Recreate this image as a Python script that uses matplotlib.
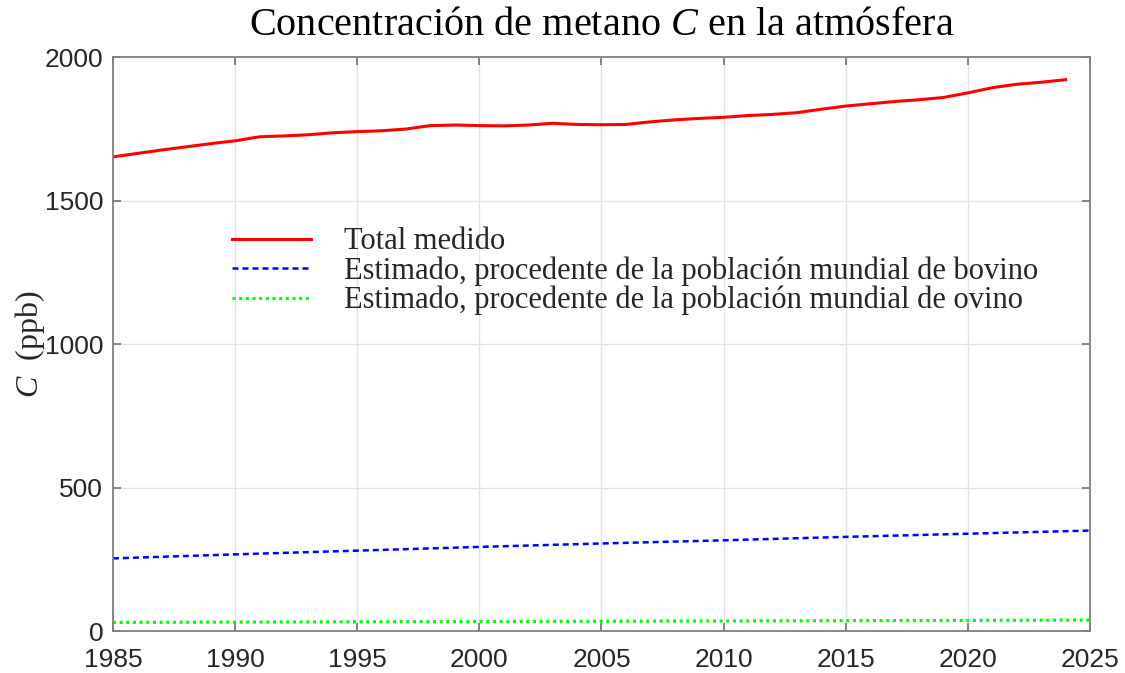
import matplotlib
matplotlib.use('Agg')
import matplotlib.pyplot as plt

# measured total (ppb), annual
years_total = list(range(1985, 2025))
total = [1652, 1664, 1676, 1687, 1698, 1708, 1722, 1725, 1729, 1736,
         1740, 1743, 1749, 1761, 1763, 1761, 1760, 1763, 1769, 1765,
         1764, 1765, 1774, 1781, 1786, 1790, 1796, 1800, 1806, 1818,
         1829, 1837, 1845, 1851, 1859, 1875, 1893, 1905, 1912, 1921]

# estimated contributions (ppb)
years_est = [1985, 1990, 1995, 2000, 2005, 2010, 2015, 2020, 2025]
bovino = [253, 267, 280, 293, 305, 316, 328, 339, 350]
ovino = [30, 31, 32, 33, 34, 35, 36, 37, 38]

labels = ['Total medido',
          'Estimado, procedente de la población mundial de bovino',
          'Estimado, procedente de la población mundial de ovino']

serif = 'Liberation Serif'
sans = 'Liberation Sans'
txt = '#262626'
plt.rcParams['lines.scale_dashes'] = False
plt.rcParams['mathtext.fontset'] = 'custom'
plt.rcParams['mathtext.rm'] = 'Liberation Serif'
plt.rcParams['mathtext.it'] = 'Liberation Serif:italic'

fig = plt.figure(figsize=(11.25, 6.73), dpi=100)
ax = fig.add_axes([0.1004, 0.0624, 0.8685, 0.8529])

ax.plot(years_total, total, color='#ff0000', lw=2.2, label=labels[0])
ax.plot(years_est, bovino, color='#0000ff', lw=1.8, linestyle=(0, (4.3, 2.9)), label=labels[1])
ax.plot(years_est, ovino, color='#00ff00', lw=2.3, linestyle=(0, (2.2, 2.6)), label=labels[2])

ax.set_xlim(1985, 2025)
ax.set_ylim(0, 2000)
ax.set_xticks(range(1985, 2026, 5))
ax.set_yticks(range(0, 2001, 500))
ax.grid(True, color='#e3e3e3', lw=1.0)
ax.set_axisbelow(True)
ax.tick_params(direction='in', top=True, right=True, length=6, width=1.2,
               color='#707070', labelcolor=txt, labelsize=19)
ax.tick_params(axis='x', pad=12)
ax.tick_params(axis='y', pad=7)
for lab in ax.get_xticklabels() + ax.get_yticklabels():
    lab.set_family(sans)
for s in ax.spines.values():
    s.set_color('#808080')
    s.set_linewidth(1.3)

ax.set_ylabel('$C$  (ppb)', family=serif, fontsize=23, color=txt, labelpad=-2)

ax.set_title('Concentración de metano $C$ en la atmósfera', family=serif,
             fontsize=29, color='black', pad=16)

leg = ax.legend(loc='upper left', bbox_to_anchor=(0.1062, 0.73), frameon=False,
                prop={'family': serif, 'size': 22}, handlelength=2.6,
                handletextpad=1.05, labelspacing=0.0, borderpad=0)
for t in leg.get_texts():
    t.set_color(txt)

fig.savefig('out.png', dpi=100)
